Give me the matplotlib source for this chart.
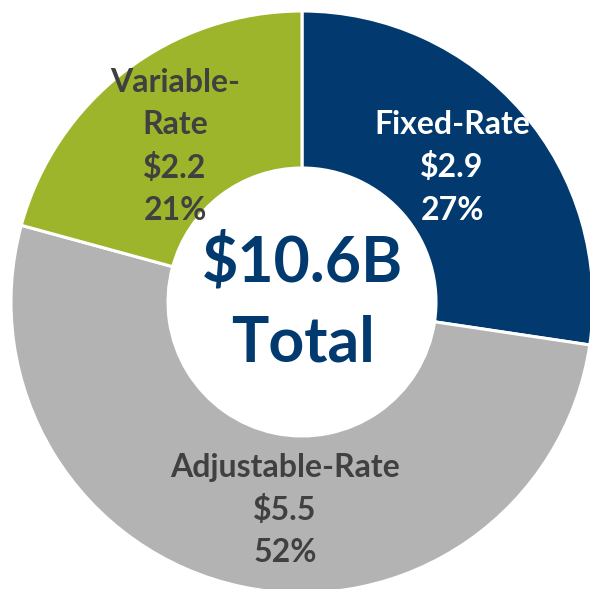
import matplotlib
matplotlib.use("Agg")
import matplotlib.pyplot as plt

categories = ["Fixed-Rate", "Adjustable-Rate", "Variable-Rate"]
values = [2.9, 5.5, 2.2]
percents = ["27%", "52%", "21%"]
label_names = ["Fixed-Rate", "Adjustable-Rate", "Variable-\nRate"]
total_label = "$10.6B\nTotal"

colors = ["#023A6F", "#B2B3B2", "#9DB52A"]
text_colors = ["white", "#404040", "#404040"]

W, H = 590, 589
fig = plt.figure(figsize=(W / 100, H / 100), dpi=100)
ax = fig.add_axes([0, 0, 1, 1])

cx, cy = 302, H - 302
R, r = 291, 134
ax.pie(values, colors=colors, startangle=90, counterclock=False,
       center=(cx, cy), radius=R, frame=True,
       wedgeprops=dict(width=R - r, edgecolor="white", linewidth=2.2))
ax.set_xlim(0, W)
ax.set_ylim(0, H)
ax.set_aspect("equal")
ax.axis("off")

font = "Lato"
fs = 23
# label positions (pixel coords from top)
pos = [(452, 124), (285, 467), (175, 82)]
for i in range(3):
    lines = label_names[i].split("\n") + [f"${values[i]:.1f}", percents[i]]
    x, y0 = pos[i]
    for k, line in enumerate(lines):
        ax.text(x, H - (y0 + 43 * k), line, ha="center", va="center",
                fontsize=fs, fontweight="bold", color=text_colors[i], family=font)

tl = total_label.split("\n")
ax.text(303, H - 263, tl[0], ha="center", va="center", fontsize=45,
        fontweight="bold", color="#023A6F", family=font)
ax.text(303, H - 344, tl[1], ha="center", va="center", fontsize=45,
        fontweight="bold", color="#023A6F", family=font)

fig.savefig("out.png", dpi=100)
